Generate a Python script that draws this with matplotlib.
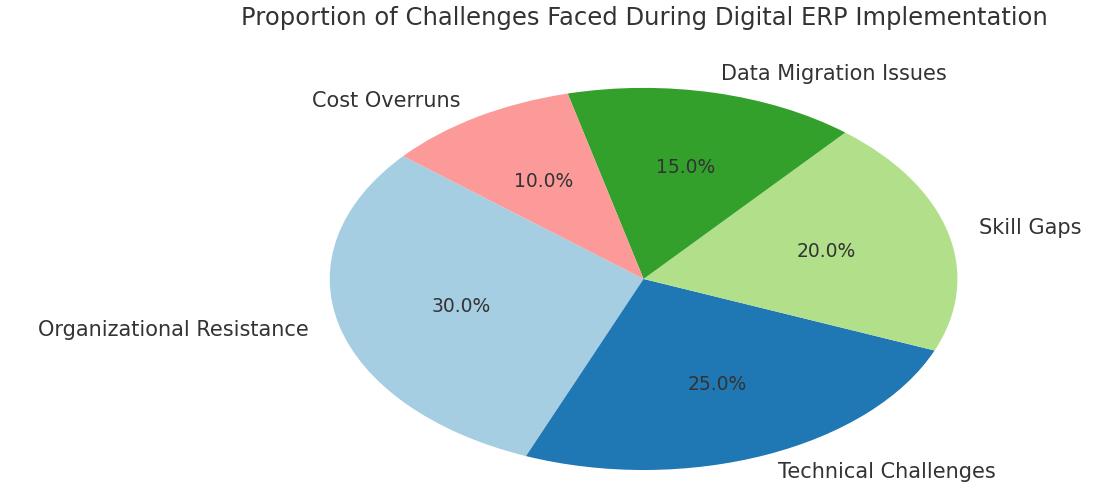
import matplotlib
matplotlib.use("Agg")
import matplotlib.pyplot as plt

# Challenge categories and their share (%)
challenges = ["Organizational Resistance", "Technical Challenges", "Skill Gaps",
              "Data Migration Issues", "Cost Overruns"]
shares = [30, 25, 20, 15, 10]
colors = ["#a6cee3", "#1f78b4", "#b2df8a", "#33a02c", "#fb9a99"]

fig = plt.figure(figsize=(11.02, 4.87), dpi=100)
ax = fig.add_axes([0.228, 0.0, 0.712, 1.0])

wedges, texts, autotexts = ax.pie(shares, labels=challenges, colors=colors,
                                  autopct="%1.1f%%", startangle=140,
                                  textprops={"fontsize": 15, "color": "#333333"})
for t in autotexts:
    t.set_color("#333333")
    t.set_fontsize(13.5)

# the reference pie is stretched sideways
ax.set_aspect("auto")
ax.set_xlim(-1.25, 1.25)
ax.set_ylim(-1.089, 1.46)

fig.text(0.585, 0.963, "Proportion of Challenges Faced During Digital ERP Implementation",
         ha="center", va="center", fontsize=17.5, color="#333333")

plt.savefig("out.png", dpi=100)
